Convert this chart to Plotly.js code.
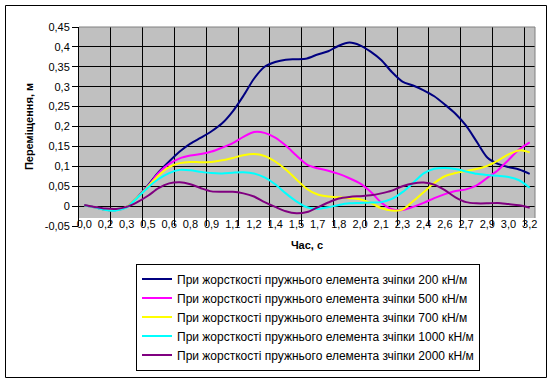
<!DOCTYPE html>
<html>
<head>
<meta charset="utf-8">
<script src="https://cdn.plot.ly/plotly-3.0.1.min.js"></script>
<style>html,body{margin:0;padding:0;background:#fff;}#chart{width:552px;height:383px;}</style>
</head>
<body>
<div id="chart"></div>
<script>
// Time categories (s)
const times = [0, 0.075, 0.15, 0.225, 0.3, 0.375, 0.45, 0.525, 0.6, 0.675, 0.75, 0.825, 0.9, 0.975,
  1.05, 1.125, 1.2, 1.275, 1.35, 1.425, 1.5, 1.575, 1.65, 1.725, 1.8, 1.875, 1.95, 2.025, 2.1, 2.175,
  2.25, 2.325, 2.4, 2.475, 2.55, 2.625, 2.7, 2.775, 2.85, 2.925, 3.0, 3.075, 3.15];

// Category tick labels (every second category)
const tickTimes = [0, 0.15, 0.3, 0.45, 0.6, 0.75, 0.9, 1.05, 1.2, 1.35, 1.5, 1.65, 1.8, 1.95, 2.1, 2.25, 2.4, 2.55, 2.7, 2.85, 3.0, 3.15];
const tickLabels = ['0,0','0,2','0,3','0,5','0,6','0,8','0,9','1,1','1,2','1,4','1,5','1,7','1,8','2,0','2,1','2,3','2,4','2,6','2,7','2,9','3,0','3,2'];

const yTickVals = [-0.05, 0, 0.05, 0.1, 0.15, 0.2, 0.25, 0.3, 0.35, 0.4, 0.45];
const yTickText = ['-0,05','0','0,05','0,1','0,15','0,2','0,25','0,3','0,35','0,4','0,45'];

const seriesNames = [
  'При жорсткості пружнього елемента зчіпки 200 кН/м',
  'При жорсткості пружнього елемента зчіпки 500 кН/м',
  'При жорсткості пружнього елемента зчіпки 700 кН/м',
  'При жорсткості пружнього елемента зчіпки 1000 кН/м',
  'При жорсткості пружнього елемента зчіпки 2000 кН/м'
];

const k200 = [0.002, -0.003, -0.009, -0.010, -0.002, 0.022, 0.052, 0.085, 0.112, 0.137, 0.157, 0.172, 0.188, 0.208,
  0.238, 0.277, 0.320, 0.350, 0.362, 0.368, 0.369, 0.371, 0.381, 0.389, 0.403, 0.411, 0.404, 0.388, 0.367, 0.337,
  0.313, 0.303, 0.291, 0.276, 0.255, 0.232, 0.202, 0.162, 0.122, 0.106, 0.098, 0.092, 0.081];
const k500 = [0.002, -0.003, -0.009, -0.010, -0.002, 0.022, 0.050, 0.083, 0.106, 0.120, 0.127, 0.131, 0.137, 0.147,
  0.158, 0.174, 0.186, 0.184, 0.172, 0.152, 0.127, 0.104, 0.095, 0.089, 0.081, 0.070, 0.057, 0.036, 0.009, -0.008,
  -0.010, -0.002, 0.008, 0.020, 0.030, 0.038, 0.042, 0.052, 0.071, 0.090, 0.116, 0.142, 0.160];
const k700 = [0.002, -0.003, -0.009, -0.010, -0.002, 0.022, 0.049, 0.077, 0.098, 0.108, 0.111, 0.110, 0.111, 0.115,
  0.121, 0.128, 0.131, 0.126, 0.112, 0.092, 0.067, 0.043, 0.029, 0.024, 0.022, 0.020, 0.017, 0.008, -0.005, -0.011,
  -0.009, 0.012, 0.035, 0.058, 0.075, 0.083, 0.088, 0.093, 0.101, 0.114, 0.130, 0.140, 0.135];
const k1000 = [0.002, -0.003, -0.010, -0.011, -0.003, 0.021, 0.047, 0.068, 0.083, 0.091, 0.090, 0.086, 0.083, 0.082,
  0.084, 0.085, 0.082, 0.072, 0.055, 0.032, 0.012, -0.003, -0.007, -0.003, 0.003, 0.007, 0.008, 0.009, 0.010, 0.018,
  0.035, 0.058, 0.082, 0.094, 0.096, 0.093, 0.087, 0.081, 0.078, 0.076, 0.073, 0.065, 0.046];
const k2000 = [0.003, -0.002, -0.006, -0.007, -0.002, 0.010, 0.026, 0.045, 0.057, 0.060, 0.055, 0.045, 0.037, 0.036,
  0.036, 0.032, 0.024, 0.010, -0.002, -0.013, -0.018, -0.015, -0.003, 0.009, 0.019, 0.023, 0.025, 0.027, 0.032, 0.039,
  0.050, 0.057, 0.059, 0.054, 0.040, 0.022, 0.010, 0.007, 0.007, 0.008, 0.005, 0.002, -0.004];

const seriesValues = [k200, k500, k700, k1000, k2000];
const seriesColors = ['#000080', '#FF00FF', '#FFFF00', '#00FFFF', '#800080'];

// vertical gridlines every 3 categories, on category boundaries
const gridVals = [];
for (let i = 3; i < times.length; i += 3) gridVals.push((times[i - 1] + times[i]) / 2);
const halfStep = (times[1] - times[0]) / 2;

const FONT = 'Liberation Sans, Arial, sans-serif';

const traces = seriesValues.map((vals, k) => ({
  type: 'scatter', mode: 'lines', x: times, y: vals, name: seriesNames[k],
  line: {color: seriesColors[k], width: 2, shape: 'spline', smoothing: 0.8},
  legendgroup: 'g' + k, hoverinfo: 'skip'
}));

// geometry helpers (pixel -> paper) for decorations
const W = 552, H = 383, L = 79, R = 17, T = 27, B = 157;
const pw = W - L - R, ph = H - T - B;
const px = v => (v - L) / pw;
const py = v => (H - B - v) / ph;

const layout = {
  width: W, height: H,
  margin: {l: L, r: R, t: T, b: B, pad: 0},
  paper_bgcolor: '#ffffff',
  plot_bgcolor: '#C0C0C0',
  font: {family: FONT, size: 11, color: '#000'},
  showlegend: true,
  xaxis: {
    range: [times[0] - halfStep, times[times.length - 1] + halfStep],
    anchor: 'free', position: py(216),
    tickmode: 'array', tickvals: tickTimes, ticktext: tickLabels,
    ticks: '', showgrid: false, zeroline: false, showline: false,
    tickfont: {family: FONT, size: 11, color: '#000'},
    minor: {tickmode: 'array', tickvals: gridVals, showgrid: true, gridcolor: '#000000', gridwidth: 1, ticks: ''},
    title: {text: 'Час, с', font: {family: FONT, size: 11, color: '#000', weight: 'bold'}, standoff: 12},
    fixedrange: true
  },
  yaxis: {
    range: [-0.05, 0.45],
    tickmode: 'array', tickvals: yTickVals, ticktext: yTickText,
    showgrid: true, gridcolor: '#000000', gridwidth: 1,
    zeroline: false, showline: true, linecolor: '#000', linewidth: 1,
    ticks: 'outside', ticklen: 6, tickcolor: '#000', tickwidth: 1,
    tickfont: {family: FONT, size: 11, color: '#000'},
    title: {text: 'Переміщення, м', font: {family: FONT, size: 11, color: '#000', weight: 'bold'}, standoff: 8},
    fixedrange: true
  },
  legend: {
    x: px(136), y: py(370.5), xanchor: 'left', yanchor: 'bottom',
    bgcolor: '#ffffff', bordercolor: '#000', borderwidth: 1,
    font: {family: FONT, size: 12, color: '#000'},
    traceorder: 'grouped', tracegroupgap: 0
  },
  shapes: [
    // white strip under category labels
    {type: 'rect', xref: 'x domain', yref: 'paper', x0: 0, x1: 1, y0: py(228), y1: py(218),
     fillcolor: '#ffffff', line: {width: 0}, layer: 'between'},
    // plot area frame (top and right)
    {type: 'path', xref: 'paper', yref: 'paper',
     path: `M ${px(79)} ${py(27)} L 1 ${py(27)} L 1 ${py(218)}`, line: {color: '#808080', width: 1}, layer: 'above'},
    // outer chart border
    {type: 'rect', xref: 'paper', yref: 'paper', x0: px(5.5), x1: px(546.5), y0: py(377.5), y1: py(5.5),
     line: {color: '#000', width: 1}, fillcolor: 'rgba(0,0,0,0)', layer: 'above'}
  ]
};

Plotly.newPlot('chart', traces, layout, {displayModeBar: false, staticPlot: true});
</script>
</body>
</html>
